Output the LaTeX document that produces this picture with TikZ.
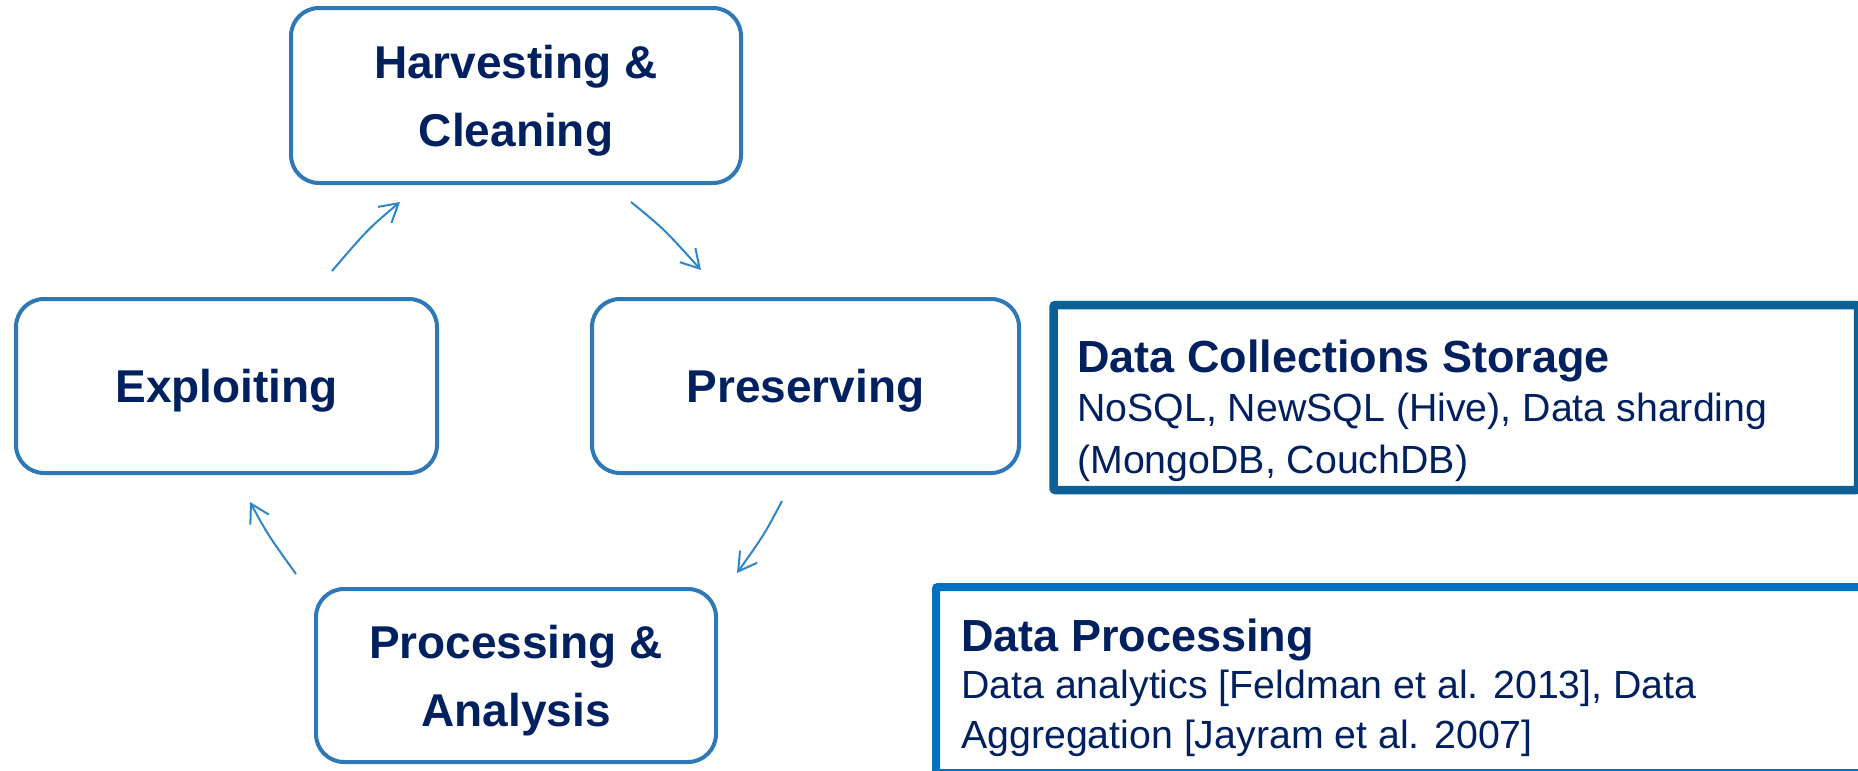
\documentclass[tikz,border=0pt]{standalone}
\usepackage{fontspec}
\setmainfont{Liberation Sans}
\usetikzlibrary{arrows.meta}
\definecolor{navy}{HTML}{002060}
\definecolor{cyc}{HTML}{2E78B7}
\definecolor{arr}{HTML}{2E86C9}
\definecolor{store}{HTML}{0B6196}
\definecolor{procb}{HTML}{0070C0}
\begin{document}
\begin{tikzpicture}[x=1pt,y=-1pt,
  stage/.style={draw=cyc, line width=4pt, rounded corners=28pt, align=center, text=navy,
    font=\fontsize{46}{68.5}\selectfont\bfseries, inner sep=0pt},
  flow/.style={draw=arr, line width=2pt, -{Straight Barb[length=18pt,width=21pt]}},
  infobox/.style={draw, line width=8.5pt, inner sep=0pt, rounded corners=2pt},
  titletext/.style={anchor=base west, inner sep=0pt, text=navy, font=\fontsize{45}{50}\selectfont\bfseries},
  bodytext/.style={anchor=base west, inner sep=0pt, text=navy, font=\fontsize{39.3}{50}\selectfont}]
\useasboundingbox (0,0) rectangle (1858,771);
\fill[white] (0,0) rectangle (1858,771);
\clip (0,0) rectangle (1858,771);

% cycle stages
\node[stage, minimum width=450pt, minimum height=175pt] (harv) at (516,95.5) {\rule{0pt}{44pt}Harvesting \&\\Cleaning};
\node[stage, minimum width=421pt, minimum height=174pt, text height=32pt, text depth=0pt] (expl) at (226.5,386) {Exploiting};
\node[stage, minimum width=427pt, minimum height=174pt, text height=32pt, text depth=0pt] (pres) at (805.5,386) {Preserving};
\node[stage, minimum width=400pt, minimum height=173pt] (proc) at (516,675.5) {\rule{0pt}{44pt}Processing \&\\Analysis};

% cycle arrows
\coordinate (a1s) at (332,271); \coordinate (a1e) at (400,202);
\coordinate (a2s) at (631,202); \coordinate (a2e) at (701,270);
\coordinate (a3s) at (782,501); \coordinate (a3e) at (737,573);
\coordinate (a4s) at (296,574); \coordinate (a4e) at (250,502);
\draw[flow] (a1s) .. controls (368,229) .. (a1e);
\draw[flow] (a2s) .. controls (664,229) .. (a2e);
\draw[flow] (a3s) .. controls (764,535) .. (a3e);
\draw[flow] (a4s) .. controls (268,535) .. (a4e);

% info boxes
\node[infobox, draw=store, minimum width=804.5pt, minimum height=185pt] (storage) at (1455.75,397.5) {};
\node[infobox, draw=procb, line width=8pt, minimum width=934pt, minimum height=186pt] (dproc) at (1403,680) {};

\node[titletext] (st1) at (1077,372) {Data Collections Storage};
\node[bodytext] (st2) at (1077,421) {NoSQL, NewSQL (Hive), Data sharding};
\node[bodytext] (st3) at (1077,473) {(MongoDB, CouchDB)};

\node[titletext] (dp1) at (961,651) {Data Processing};
\node[bodytext] (dp2) at (961,698) {Data analytics [Feldman et al. 2013], Data};
\node[bodytext] (dp3) at (961,748) {Aggregation [Jayram et al. 2007]};
\end{tikzpicture}
\end{document}
